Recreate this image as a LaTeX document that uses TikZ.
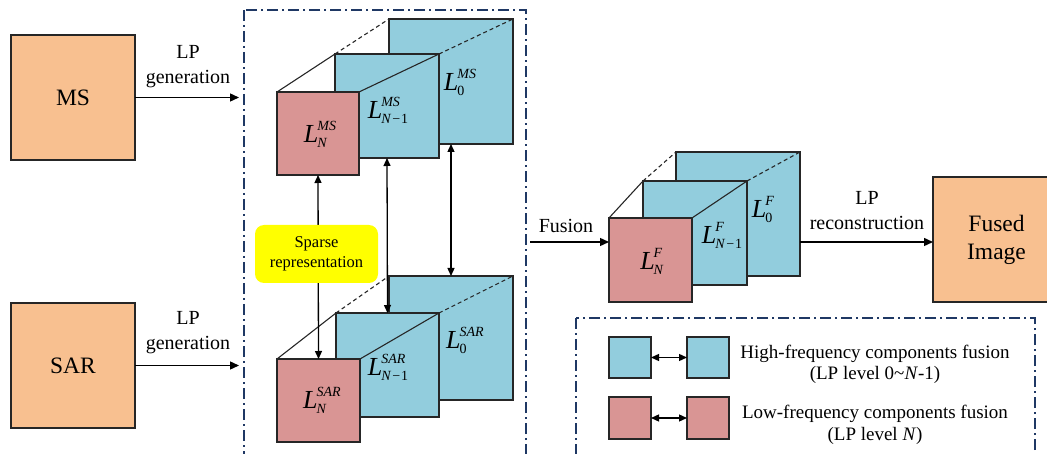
\documentclass[tikz,border=0pt]{standalone}
\usepackage{fontspec}
\setmainfont{Liberation Serif}
\usetikzlibrary{arrows.meta}
\definecolor{srcfill}{RGB}{248,192,144}
\definecolor{hfill}{RGB}{146,205,221}
\definecolor{lfill}{RGB}{217,149,148}
\definecolor{edge}{RGB}{38,38,38}
\definecolor{navy}{RGB}{31,56,100}
\definecolor{spy}{RGB}{255,255,0}
\newcommand{\Lbl}[2]{\textit{L}\kern-1pt\raisebox{-5pt}{\fontsize{14}{15}\selectfont\begin{tabular}[b]{@{}l@{}}\textit{#1}\\[1.5pt]#2\end{tabular}}}
\newcommand{\Nm}{\textit{N}\kern1pt−\kern1pt1}
\begin{document}
\begin{tikzpicture}[x=1pt,y=-1pt,
  lbl/.style={font=\fontsize{20}{25}\selectfont, align=center, inner sep=0pt},
  big/.style={font=\fontsize{23.5}{28}\selectfont, align=center},
  mlbl/.style={font=\fontsize{26}{28}\selectfont, inner sep=0pt},
  boxbase/.style={draw=edge, line width=1.3pt, inner sep=0pt, outer sep=0pt},
  src/.style={boxbase, fill=srcfill},
  hf/.style={boxbase, fill=hfill, anchor=north west},
  lf/.style={boxbase, fill=lfill, anchor=north west},
  arr/.style={line width=1.4pt, -{Triangle[length=9pt,width=8pt]}},
  darr/.style={line width=1.3pt, {Triangle[length=8pt,width=7pt]}-{Triangle[length=8pt,width=7pt]}},
  dd/.style={draw=navy, line width=1.8pt, dash pattern=on 11pt off 4pt on 2pt off 4pt},
  edgeln/.style={draw=edge, line width=1.1pt},
  dashln/.style={edgeln, dash pattern=on 4pt off 3pt}]
\useasboundingbox (0,0) rectangle (1047,454);
\clip (0,0) rectangle (1047,454);

% dash-dot frames
\draw[dd] (244,10) rectangle (526,480);
\draw[dd] (576,318) rectangle (1035,480);

% sources
\node[src, minimum width=124pt, minimum height=125pt, big] (ms) at (73,97.5) {MS};
\node[src, minimum width=124pt, minimum height=125pt, big] (sar) at (73,365.5) {SAR};
\coordinate (msin) at (239,97.5);
\coordinate (sarin) at (239,365.5);
\draw[arr] (ms.east) -- (msin);
\draw[arr] (sar.east) -- (sarin);
\node[lbl] (lpg1) at (188,67) {LP\\generation};
\node[lbl] (lpg2) at (188,333) {LP\\generation};

% MS stack
\node[hf, minimum width=124pt, minimum height=125pt] (m0) at (389,19) {};
\node[hf, minimum width=104pt, minimum height=104pt] (m1) at (335,54) {};
\node[lf, minimum width=82pt, minimum height=83pt] (mN) at (277,92) {};
\draw[edgeln] (mN.north west) -- (m1.north west);
\draw[dashln] (m1.north west) -- (m0.north west);
\draw[edgeln] (mN.north east) -- (m1.north east);
\draw[dashln] (m1.north east) -- (m0.north east);
\node[mlbl] (tm0) at (460,84) {\Lbl{MS}{0}};
\node[mlbl] (tm1) at (388,112) {\Lbl{MS}{\Nm}};
\node[mlbl] (tmN) at (320,136) {\Lbl{MS}{\textit{N}}};

% SAR stack
\node[hf, minimum width=124pt, minimum height=124pt] (s0) at (389,276) {};
\node[hf, minimum width=103pt, minimum height=104pt] (s1) at (336,313) {};
\node[lf, minimum width=83pt, minimum height=83pt] (sN) at (277,359) {};
\draw[edgeln] (sN.north west) -- (s1.north west);
\draw[dashln] (s1.north west) -- (s0.north west);
\draw[edgeln] (sN.north east) -- (s1.north east);
\draw[dashln] (s1.north east) -- (s0.north east);
\node[mlbl] (ts0) at (465,342) {\Lbl{SAR}{0}};
\node[mlbl] (ts1) at (388,369) {\Lbl{SAR}{\Nm}};
\node[mlbl] (tsN) at (322,402) {\Lbl{SAR}{\textit{N}}};

% correspondence arrows
\draw[darr] (mN.south) -- (sN.north);
\draw[darr] (m1.south) -- (s1.north);
\draw[darr] (m0.south) -- (s0.north);
\node[fill=spy, rounded corners=9pt, minimum width=123pt, minimum height=58pt, inner sep=0pt,
      font=\fontsize{16.5}{20}\selectfont, align=center] (sp) at (316.5,254) {Sparse\\representation};

% fused stack
\node[hf, minimum width=124pt, minimum height=124pt] (f0) at (676,152) {};
\node[hf, minimum width=104pt, minimum height=104pt] (f1) at (643,181) {};
\node[lf, minimum width=83pt, minimum height=84pt] (fN) at (609,218) {};
\draw[edgeln] (fN.north west) -- (f1.north west);
\draw[dashln] (f1.north west) -- (f0.north west);
\draw[edgeln] (fN.north east) -- (f1.north east);
\draw[dashln] (f1.north east) -- (f0.north east);
\node[mlbl] (tf0) at (763,211) {\Lbl{F}{0}};
\node[mlbl] (tf1) at (722,237) {\Lbl{F}{\Nm}};
\node[mlbl] (tfN) at (652,263) {\Lbl{F}{\textit{N}}};

\coordinate (fusin) at (530,242);
\draw[arr] (fusin) -- (fusin -| fN.west);
\node[lbl] (fuslbl) at (566,226) {Fusion};

\node[src, minimum width=127pt, minimum height=125pt, big] (fused) at (996.5,239.5) {Fused\\Image};
\draw[arr] (f0.east |- fusin) -- (fused.west |- fusin);
\node[lbl] (lpr) at (867,211) {LP\\reconstruction};

% legend
\node[hf, minimum width=42pt, minimum height=41pt] (lb1) at (609,337) {};
\node[hf, minimum width=42pt, minimum height=41pt] (lb2) at (687,337) {};
\node[lf, minimum width=42pt, minimum height=42pt] (lr1) at (609,397) {};
\node[lf, minimum width=42pt, minimum height=42pt] (lr2) at (687,397) {};
\draw[darr] (lb1.east) -- (lb2.west);
\draw[darr] (lr1.east) -- (lr2.west);
\node[font=\fontsize{19}{21}\selectfont, align=center, inner sep=0pt] (lt1) at (875,364)
  {High-frequency components fusion\\(LP level 0\textasciitilde\textit{N}-1)};
\node[font=\fontsize{19}{22}\selectfont, align=center, inner sep=0pt] (lt2) at (875,425)
  {Low-frequency components fusion\\(LP level \textit{N})};
\end{tikzpicture}
\end{document}
